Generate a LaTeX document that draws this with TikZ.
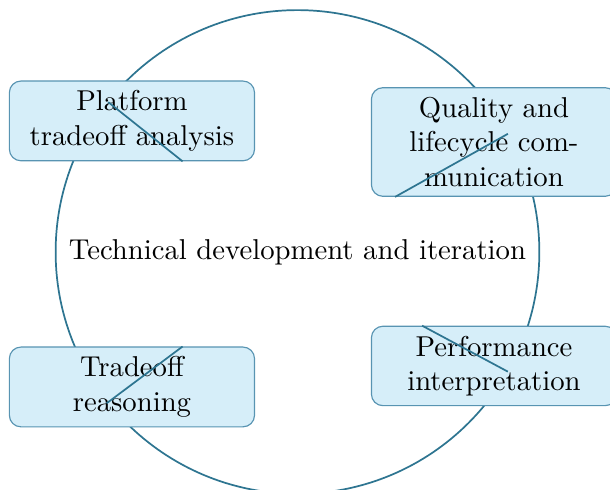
\documentclass[tikz,border=0pt]{standalone}
\usepackage{tikz}
\usetikzlibrary{calc, positioning}
\definecolor{cycleteal}{RGB}{46, 117, 145}
\definecolor{boxedge}{RGB}{88, 148, 178}
\definecolor{boxfill}{RGB}{214, 238, 249}

\begin{document}
\begin{tikzpicture}[
    stage/.style={rectangle, rounded corners, draw=boxedge, fill=boxfill, minimum width=3cm, text width=2.6cm, align=center, font=\normalsize},
    ring/.style={semithick, cycleteal},
    link/.style={semithick, cycleteal}
]
\clip (-3.641,-2.913) rectangle (3.825,3.084);

% Outer cycle with its caption
\draw [ring] (0,0) circle (2.96cm);
\node (CORE) at (0,0) {Technical development and iteration};

% Stages round the cycle
\node (PLAT) [stage] at (-2.026, 1.604)  {Platform tradeoff analysis};
\node (QUAL) [stage] at (2.405, 1.346)   {Quality and\\lifecycle com-\\munication};
\node (PERF) [stage] at (2.405, -1.395)  {Performance interpretation};
\node (TRAD) [stage] at (-2.026, -1.652) {Tradeoff reasoning};

% Cross strokes over the stages
\coordinate (PLATa) at ($(PLAT.center)+(-0.29,0.23)$);
\coordinate (PLATb) at ($(PLAT.south)+(0.62,0)$);
\coordinate (QUALa) at ($(QUAL.center)+(0.17,0.10)$);
\coordinate (QUALb) at ($(QUAL.south)+(-1.21,0)$);
\coordinate (PERFa) at ($(PERF.north)+(-0.88,0)$);
\coordinate (PERFb) at ($(PERF.center)+(0.17,-0.07)$);
\coordinate (TRADa) at ($(TRAD.north)+(0.62,0)$);
\coordinate (TRADb) at ($(TRAD.center)+(-0.31,-0.20)$);

\draw [link] (PLATa) -- (PLATb);
\draw [link] (QUALa) -- (QUALb);
\draw [link] (PERFa) -- (PERFb);
\draw [link] (TRADa) -- (TRADb);

\end{tikzpicture}
\end{document}
